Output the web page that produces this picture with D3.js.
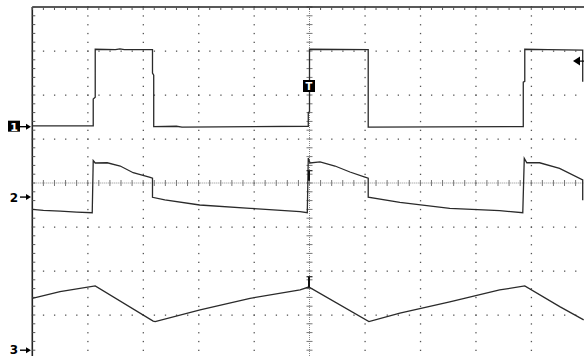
<!DOCTYPE html>
<html>
<head>
<meta charset="utf-8">
<script src="https://cdn.jsdelivr.net/npm/d3@7"></script>
<style>
  body { margin: 0; background: #fff; }
  svg { display: block; }
</style>
</head>
<body>
<div id="chart"></div>
<script>
// screen divisions (time across, volts up)
const divX = [0, 1, 2, 3, 4, 5, 6, 7, 8, 9, 10];
const divY = [-4, -3, -2, -1, 0, 1, 2, 3, 4];

// channel reference levels, in divisions
const chanLabels = ["1", "2", "3"];
const chanLevels = [1.28, -0.32, -3.8];
const triggerTime = 5;
const triggerLevel = 2.77;

// traces as [time div, value div]
const ch1 = [[0, 1.30], [1.099, 1.30], [1.099, 1.91], [1.135, 1.95], [1.135, 3.04], [1.5, 3.03],
  [1.58, 3.05], [1.66, 3.03], [2.168, 3.03], [2.168, 2.5], [2.19, 2.45], [2.19, 1.28],
  [2.6, 1.29], [2.7, 1.27], [4.978, 1.29], [4.978, 1.6], [5.0, 1.62], [5.0, 3.04],
  [6.059, 3.03], [6.059, 1.27], [8.856, 1.28], [8.856, 2.29], [8.883, 2.31], [8.883, 3.04],
  [9.3, 3.03], [9.928, 3.02], [9.928, 2.3]];

const ch2 = [[0, -0.60], [0.2, -0.62], [0.505, -0.64], [0.8, -0.66], [1.081, -0.675], [1.099, 0.51],
  [1.135, 0.455], [1.351, 0.46], [1.586, 0.386], [1.82, 0.234], [2.126, 0.13], [2.168, 0.11],
  [2.168, -0.325], [2.39, -0.386], [3.02, -0.5], [3.93, -0.575], [4.83, -0.652], [4.96, -0.675],
  [4.978, 0.57], [5.009, 0.455], [5.19, 0.48], [5.46, 0.386], [5.73, 0.25], [6.0, 0.136],
  [6.059, 0.11], [6.059, -0.32], [6.63, -0.44], [7.53, -0.575], [8.43, -0.63], [8.847, -0.675],
  [8.874, 0.56], [8.92, 0.46], [9.15, 0.46], [9.51, 0.334], [9.928, 0.07], [9.928, -0.39]];

const ch3 = [[0, -2.62], [0.5, -2.47], [1.135, -2.34], [2.18, -3.14], [2.216, -3.15], [3.027, -2.886],
  [3.928, -2.62], [4.83, -2.43], [4.973, -2.37], [5.009, -2.38], [6.072, -3.15], [6.63, -2.96],
  [7.53, -2.70], [8.43, -2.43], [8.883, -2.34], [9.514, -2.81], [9.946, -3.11]];

const width = 584, height = 356;

const x = d3.scaleLinear().domain([0, 10]).range([32.3, 586.7]);
const y = d3.scaleLinear().domain([-4, 4]).range([359, 7]);

const svg = d3.select("#chart").append("svg")
  .attr("width", width)
  .attr("height", height);

const grid = svg.append("g").attr("class", "grid");
const minorX = d3.range(0, 50.01, 1).map(k => k / 5);
const minorY = d3.range(-20, 20.01, 1).map(k => k / 5);

// dotted major lines
divY.filter(v => v !== 0 && v > -4 && v < 4).forEach(v => {
  grid.selectAll(null).data(minorX).enter().append("rect")
    .attr("x", d => x(d) - 0.5).attr("y", y(v) - 0.5)
    .attr("width", 1.3).attr("height", 1.3)
    .attr("fill", "#555");
});
divX.filter(t => t !== 5 && t > 0 && t < 10).forEach(t => {
  grid.selectAll(null).data(minorY).enter().append("rect")
    .attr("x", x(t) - 0.5).attr("y", d => y(d) - 0.5)
    .attr("width", 1.3).attr("height", 1.3)
    .attr("fill", "#555");
});

// centre lines with ticks
grid.append("line")
  .attr("x1", x(0)).attr("x2", width).attr("y1", y(0)).attr("y2", y(0))
  .attr("stroke", "#888").attr("stroke-width", 1).attr("stroke-dasharray", "1,1");
grid.selectAll(null).data(minorX).enter().append("line")
  .attr("x1", d => x(d)).attr("x2", d => x(d))
  .attr("y1", y(0) - 3).attr("y2", y(0) + 3)
  .attr("stroke", "#777").attr("stroke-width", 1);
grid.append("line")
  .attr("x1", x(5)).attr("x2", x(5)).attr("y1", y(4)).attr("y2", height)
  .attr("stroke", "#888").attr("stroke-width", 1).attr("stroke-dasharray", "1,1");
grid.selectAll(null).data(minorY).enter().append("line")
  .attr("x1", x(5) - 3).attr("x2", x(5) + 3)
  .attr("y1", d => y(d)).attr("y2", d => y(d))
  .attr("stroke", "#777").attr("stroke-width", 1);

// borders (left and top) with ticks
svg.append("line")
  .attr("x1", x(0)).attr("x2", x(0)).attr("y1", y(4)).attr("y2", height)
  .attr("stroke", "#222").attr("stroke-width", 1.6);
svg.append("line")
  .attr("x1", x(0)).attr("x2", width).attr("y1", y(4)).attr("y2", y(4))
  .attr("stroke", "#222").attr("stroke-width", 1.6);
svg.selectAll(null).data(minorY).enter().append("line")
  .attr("x1", x(0)).attr("x2", x(0) + 3)
  .attr("y1", d => y(d)).attr("y2", d => y(d))
  .attr("stroke", "#555").attr("stroke-width", 1);
svg.selectAll(null).data(minorX).enter().append("line")
  .attr("x1", d => x(d)).attr("x2", d => x(d))
  .attr("y1", y(4)).attr("y2", y(4) + 3)
  .attr("stroke", "#555").attr("stroke-width", 1);

// traces
const line = d3.line().x(d => x(d[0])).y(d => y(d[1]));
[ch1, ch2, ch3].forEach(data => {
  svg.append("path")
    .datum(data)
    .attr("d", line)
    .attr("fill", "none")
    .attr("stroke", "#2a2a2a")
    .attr("stroke-width", 1.3);
});

// trigger position ticks on ch2 / ch3
[[0.28, 0.05], [-2.13, -2.37]].forEach(([a, b]) => {
  svg.append("line")
    .attr("x1", x(triggerTime) - 3).attr("x2", x(triggerTime) + 3)
    .attr("y1", y(a)).attr("y2", y(a))
    .attr("stroke", "#222").attr("stroke-width", 1.2);
  svg.append("line")
    .attr("x1", x(triggerTime) - 0.5).attr("x2", x(triggerTime) - 0.5)
    .attr("y1", y(a)).attr("y2", y(b))
    .attr("stroke", "#111").attr("stroke-width", 2);
});

// channel markers
function arrow(g, yy) {
  g.append("line")
    .attr("x1", 20).attr("x2", 27).attr("y1", yy).attr("y2", yy)
    .attr("stroke", "#000").attr("stroke-width", 1.4);
  g.append("path")
    .attr("d", `M26,${yy - 3}L31,${yy}L26,${yy + 3}Z`)
    .attr("fill", "#000");
}
const markers = svg.append("g");
chanLabels.forEach((lab, i) => {
  const yy = y(chanLevels[i]);
  if (i === 0) {
    markers.append("rect")
      .attr("x", 8).attr("y", yy - 6).attr("width", 12).attr("height", 11)
      .attr("fill", "#000");
    markers.append("text")
      .attr("x", 14).attr("y", yy + 4)
      .attr("text-anchor", "middle")
      .attr("fill", "#fff")
      .style("font", "bold 11px 'DejaVu Sans'")
      .text(lab);
  } else {
    markers.append("text")
      .attr("x", 14).attr("y", Math.min(yy + 5, 353.5))
      .attr("text-anchor", "middle")
      .attr("fill", "#000")
      .style("font", "bold 12px 'DejaVu Sans'")
      .text(lab);
  }
  arrow(markers, yy);
});

// trigger marker at top
const tx = x(triggerTime);
markers.append("rect")
  .attr("x", tx - 6.5).attr("y", 80).attr("width", 12).attr("height", 12)
  .attr("fill", "#000");
markers.append("text")
  .attr("x", tx - 0.5).attr("y", 90)
  .attr("text-anchor", "middle")
  .attr("fill", "#fff")
  .style("font", "bold 10px 'DejaVu Sans'")
  .text("T");

// trigger level arrow on the right
const ty = y(triggerLevel);
markers.append("path")
  .attr("d", `M573,${ty}L580,${ty - 4.5}L580,${ty + 4.5}Z`)
  .attr("fill", "#000");
markers.append("line")
  .attr("x1", 580).attr("x2", width).attr("y1", ty).attr("y2", ty)
  .attr("stroke", "#000").attr("stroke-width", 1.2);
</script>
</body>
</html>
